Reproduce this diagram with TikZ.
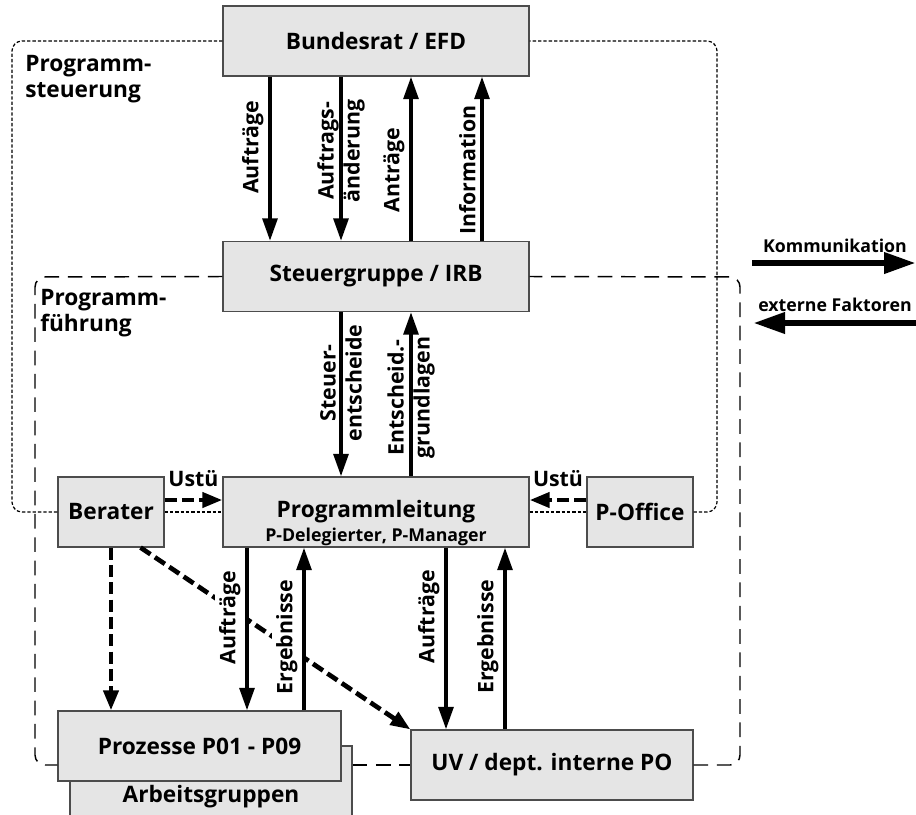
\documentclass[tikz,border=0pt]{standalone}
\usepackage{fontspec}
\setmainfont{Open Sans}
\usetikzlibrary{arrows.meta,calc}
\tikzset{boxtext/.style = {font=\fontsize{17}{19.5}\selectfont\bfseries},
  box/.style = {boxtext, draw=black!70, fill=black!10, line width=.8pt, inner sep=0pt, minimum height=52.5pt},
  labtext/.style = {font=\fontsize{16}{19.5}\selectfont\bfseries},
  lab/.style = {labtext, rotate=90, align=center}}

\begin{document}
\begin{tikzpicture}[x=.75pt, y=-.75pt,
    flow/.style = {line width=3pt, -{Triangle[length=17pt, width=11pt]}},
    hilfe/.style = {line width=3.5pt, dash pattern=on 9pt off 4pt, -{Triangle[length=15pt, width=11pt]}},
    steuerrand/.style = {line width=.9pt, dash pattern=on 2.5pt off 1.5pt, rounded corners=7.5pt},
    fuehrrand/.style = {line width=1.1pt, dash pattern=on 11pt off 6.5pt, rounded corners=7.5pt},
    legende/.style = {line width=5pt, -{Triangle[length=24pt, width=15pt]}},
    klein/.style = {font=\fontsize{13.3}{15}\selectfont\bfseries}]
  \useasboundingbox (0,0) rectangle (916,814);
  \node[box, minimum width=229.5pt] (brat) at (376,41) {Bundesrat / EFD};
  \node[box, minimum width=229.5pt] (sg) at (376,276.5) {Steuergruppe / IRB};
  \node[box, minimum width=229.5pt,
    label={[klein, anchor=south, inner sep=1pt]south:{P-Delegierter, P-Manager}}] (pl) at (376,512) {Programmleitung};
  \node[box, minimum width=79.5pt] (ber) at (111,512) {Berater};
  \node[box, minimum width=79.5pt] (poff) at (640,512) {P-Office};
  \node[box, minimum width=211.5pt, label={[boxtext, yshift=-12pt]center:Arbeitsgruppen}] (agr) at (211,781) {};
  \node[box, minimum width=212.25pt] (proz) at (199.5,746) {Prozesse P01 - P09};
  \node[box, minimum width=211.5pt] (uv) at (552,765) {UV / dept. interne PO};
  \node[boxtext, align=left, anchor=north west, inner sep=0pt] (pst) at (25,55) {Programm-\\steuerung};
  \node[boxtext, align=left, anchor=north west, inner sep=0pt] (pfu) at (40,289) {Programm-\\führung};

  \coordinate (ps1) at (12,41);
  \coordinate (ps2) at (717,41);
  \draw[steuerrand] (brat.west) -- (ps1) |- (ber.west);
  \draw[steuerrand] (ber.east) -- (pl.west) (pl.east) -- (poff.west);
  \draw[steuerrand] (poff.east) -| (ps2) -- (brat.east);
  \coordinate (pf1) at (35,277);
  \coordinate (pf2) at (740,277);
  \draw[fuehrrand] (sg.west) -- (pf1) |- (proz.west |- uv.west);
  \draw[fuehrrand] (agr.east |- uv.west) -- (uv.west);
  \draw[fuehrrand] (uv.east) -| (pf2) -- (sg.east);

  \draw[hilfe] (ber.south) -- (ber.south |- proz.north);
  \draw[hilfe] ([xshift=-18pt]ber.south east) -- (uv.north west);
  \draw[hilfe] ([yshift=9pt]ber.east) -- ([yshift=9pt]pl.west) node[labtext, midway, above=8pt, inner sep=0pt] (u1) {Ustü};
  \draw[hilfe] ([yshift=9pt]poff.west) -- ([yshift=9pt]pl.east) node[labtext, midway, above=8pt, inner sep=0pt] (u2) {Ustü};

  \draw[flow] ($(brat.south)+(-106,0)$) -- ($(sg.north)+(-106,0)$) node[lab, pos=.43, above] (a1) {Aufträge};
  \draw[flow] ($(brat.south)+(-35,0)$) -- ($(sg.north)+(-35,0)$) node[lab, pos=.44, xshift=-1.5pt] (a2) {Auftrags-\\änderung};
  \draw[flow] ($(sg.north)+(35,0)$) -- ($(brat.south)+(35,0)$) node[lab, pos=.43, above] (a3) {Anträge};
  \draw[flow] ($(sg.north)+(106,0)$) -- ($(brat.south)+(106,0)$) node[lab, pos=.43, above] (a4) {Information};
  \draw[flow] ($(sg.south)+(-35,0)$) -- ($(pl.north)+(-35,0)$) node[lab, pos=.43] (a5) {Steuer-\\entscheide};
  \draw[flow] ($(pl.north)+(35,0)$) -- ($(sg.south)+(35,0)$) node[lab, pos=.48] (a6) {Entscheid.-\\grundlagen};
  \draw[flow] ($(pl.south)+(-129,0)$) -- ($(proz.north)+(47.5,0)$) node[lab, pos=.43, above, fill=white] (a7) {Aufträge};
  \draw[flow] ($(proz.north)+(104.5,0)$) -- ($(pl.south)+(-72,0)$) node[lab, pos=.45, above, fill=white] (a8) {Ergebnisse};
  \draw[flow] ($(pl.south)+(70,0)$) -- ($(uv.north)+(-106,0)$) node[lab, pos=.38, above, fill=white] (a9) {Aufträge};
  \draw[flow] ($(uv.north)+(-47,0)$) -- ($(pl.south)+(129,0)$) node[lab, pos=.51, above, fill=white] (a10) {Ergebnisse};

  \node[klein] (kom) at (835,246) {Kommunikation};
  \node[klein] (ext) at (835,305) {externe Faktoren};
  \coordinate (k1) at (752,263);
  \coordinate (k2) at (916,263);
  \coordinate (e1) at (916,323);
  \coordinate (e2) at (753,323);
  \draw[legende] (k1) -- (k2);
  \draw[legende] (e1) -- (e2);
\end{tikzpicture}
\end{document}
